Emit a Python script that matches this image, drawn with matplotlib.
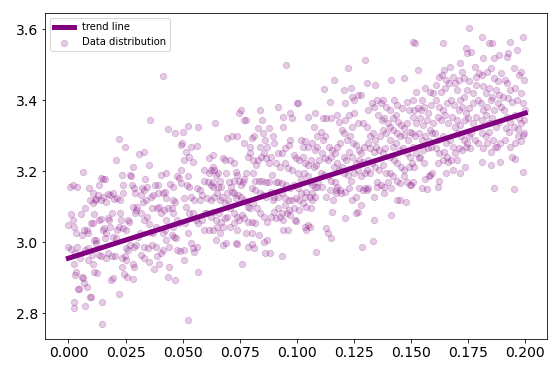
import matplotlib
matplotlib.use("Agg")
import matplotlib.pyplot as plt

# Trend line end points
trend_x = [0.0, 0.2]
trend_y = [2.955, 3.364]

# Scatter data
x_values = [
    # 0.00-0.01
    0.0000, 0.0006, 0.0019, 0.0039, 0.0011, 0.0019, 0.0000, 0.0011, 0.0026, 0.0034,
    0.0039, 0.0029, 0.0050, 0.0023, 0.0034, 0.0029, 0.0060, 0.0026, 0.0025, 0.0045,
    0.0040, 0.0065, 0.0070, 0.0073, 0.0062, 0.0073, 0.0081, 0.0085, 0.0088, 0.0091,
    0.0096, 0.0060, 0.0073, 0.0054, 0.0067, 0.0088, 0.0096, 0.0082,
    # 0.01-0.02
    0.0107, 0.0107, 0.0116, 0.0122, 0.0101, 0.0107, 0.0112, 0.0143, 0.0150, 0.0161,
    0.0132, 0.0129, 0.0143, 0.0153, 0.0163, 0.0135, 0.0141, 0.0150, 0.0158, 0.0112,
    0.0122, 0.0119, 0.0104, 0.0109, 0.0113, 0.0127, 0.0143, 0.0135, 0.0166, 0.0174,
    0.0147, 0.0147, 0.0101, 0.0191, 0.0194, 0.0184, 0.0178, 0.0174, 0.0189, 0.0174,
    0.0197, 0.0199, 0.0180, 0.0186, 0.0197, 0.0166, 0.0160,
    # 0.02-0.03
    0.0209, 0.0223, 0.0247, 0.0236, 0.0239, 0.0270, 0.0274, 0.0281, 0.0278, 0.0287,
    0.0293, 0.0212, 0.0228, 0.0240, 0.0225, 0.0231, 0.0220, 0.0212, 0.0240, 0.0251,
    0.0259, 0.0266, 0.0282, 0.0290, 0.0298, 0.0253, 0.0262, 0.0271, 0.0287, 0.0296,
    0.0236, 0.0247, 0.0251, 0.0233, 0.0243, 0.0256, 0.0282, 0.0287, 0.0282, 0.0220,
    0.0205, 0.0208,
    # 0.03-0.04
    0.0310, 0.0329, 0.0352, 0.0357, 0.0336, 0.0321, 0.0333, 0.0344, 0.0316, 0.0326,
    0.0340, 0.0360, 0.0371, 0.0380, 0.0391, 0.0392, 0.0302, 0.0318, 0.0329, 0.0344,
    0.0352, 0.0360, 0.0371, 0.0383, 0.0313, 0.0305, 0.0333, 0.0349, 0.0364, 0.0383,
    0.0316, 0.0329, 0.0352, 0.0375, 0.0395, 0.0386, 0.0367, 0.0388, 0.0398,
    # 0.04-0.05
    0.0414, 0.0437, 0.0465, 0.0429, 0.0406, 0.0414, 0.0422, 0.0426, 0.0445, 0.0457,
    0.0460, 0.0468, 0.0476, 0.0484, 0.0491, 0.0499, 0.0495, 0.0406, 0.0417, 0.0429,
    0.0437, 0.0453, 0.0460, 0.0476, 0.0484, 0.0414, 0.0426, 0.0442, 0.0453, 0.0464,
    0.0457, 0.0473, 0.0476, 0.0488, 0.0442, 0.0437, 0.0468, 0.0414, 0.0406, 0.0423,
    # 0.05-0.06
    0.0502, 0.0522, 0.0495, 0.0515, 0.0530, 0.0538, 0.0561, 0.0566, 0.0507, 0.0546,
    0.0522, 0.0519, 0.0530, 0.0538, 0.0550, 0.0561, 0.0574, 0.0584, 0.0592, 0.0595,
    0.0507, 0.0515, 0.0530, 0.0546, 0.0557, 0.0569, 0.0584, 0.0510, 0.0522, 0.0538,
    0.0546, 0.0550, 0.0561, 0.0504, 0.0507, 0.0569, 0.0524, 0.0577, 0.0592, 0.0597,
    # 0.06-0.07
    0.0616, 0.0631, 0.0643, 0.0623, 0.0616, 0.0631, 0.0639, 0.0647, 0.0654, 0.0612,
    0.0623, 0.0631, 0.0662, 0.0670, 0.0678, 0.0685, 0.0690, 0.0608, 0.0623, 0.0639,
    0.0650, 0.0662, 0.0674, 0.0685, 0.0698, 0.0608, 0.0623, 0.0631, 0.0647, 0.0659,
    0.0670, 0.0685, 0.0693, 0.0616, 0.0631, 0.0650, 0.0662, 0.0678, 0.0647, 0.0678,
    0.0690, 0.0631, 0.0654, 0.0693, 0.0696,
    # 0.07-0.08
    0.0716, 0.0740, 0.0747, 0.0755, 0.0767, 0.0778, 0.0709, 0.0724, 0.0732, 0.0740,
    0.0724, 0.0747, 0.0755, 0.0763, 0.0770, 0.0778, 0.0786, 0.0794, 0.0716, 0.0724,
    0.0732, 0.0743, 0.0755, 0.0767, 0.0778, 0.0786, 0.0794, 0.0709, 0.0724, 0.0736,
    0.0747, 0.0758, 0.0770, 0.0786, 0.0709, 0.0724, 0.0740, 0.0732, 0.0736, 0.0778,
    0.0786, 0.0760, 0.0712, 0.0705, 0.0770, 0.0795,
    # 0.08-0.09
    0.0805, 0.0814, 0.0840, 0.0848, 0.0829, 0.0840, 0.0851, 0.0860, 0.0871, 0.0879,
    0.0887, 0.0895, 0.0809, 0.0820, 0.0829, 0.0845, 0.0856, 0.0867, 0.0879, 0.0809,
    0.0817, 0.0833, 0.0848, 0.0864, 0.0879, 0.0891, 0.0805, 0.0817, 0.0840, 0.0851,
    0.0867, 0.0887, 0.0895, 0.0809, 0.0825, 0.0840, 0.0856, 0.0871, 0.0887, 0.0805,
    0.0817, 0.0833, 0.0856, 0.0871, 0.0860, 0.0882, 0.0805, 0.0814, 0.0802,
    # 0.09-0.10
    0.0918, 0.0952, 0.0941, 0.0941, 0.0972, 0.0980, 0.0999, 0.0902, 0.0918, 0.0933,
    0.0949, 0.0964, 0.0972, 0.0988, 0.0995, 0.0910, 0.0926, 0.0949, 0.0960, 0.0980,
    0.0907, 0.0918, 0.0933, 0.0953, 0.0972, 0.0988, 0.0902, 0.0918, 0.0933, 0.0949,
    0.0964, 0.0980, 0.0995, 0.0902, 0.0918, 0.0933, 0.0949, 0.0964, 0.0988, 0.0910,
    0.0926, 0.0941, 0.0957, 0.0972, 0.0992, 0.0941, 0.0960, 0.0937, 0.0995,
    # 0.10-0.11
    0.1003, 0.1050, 0.1073, 0.1081, 0.1088, 0.1019, 0.1026, 0.1037, 0.1050, 0.1065,
    0.1078, 0.1088, 0.1011, 0.1026, 0.1037, 0.1050, 0.1062, 0.1073, 0.1084, 0.1096,
    0.1003, 0.1019, 0.1031, 0.1047, 0.1057, 0.1068, 0.1081, 0.1093, 0.1006, 0.1019,
    0.1034, 0.1042, 0.1057, 0.1065, 0.1081, 0.1011, 0.1026, 0.1042, 0.1062, 0.1011,
    0.1034, 0.1042, 0.1050, 0.1057, 0.1068, 0.1084, 0.1090,
    # 0.11-0.12
    0.1115, 0.1127, 0.1143, 0.1150, 0.1161, 0.1174, 0.1186, 0.1197, 0.1119, 0.1104,
    0.1115, 0.1124, 0.1140, 0.1155, 0.1166, 0.1177, 0.1189, 0.1112, 0.1124, 0.1135,
    0.1150, 0.1161, 0.1174, 0.1186, 0.1197, 0.1104, 0.1119, 0.1135, 0.1150, 0.1166,
    0.1177, 0.1189, 0.1112, 0.1127, 0.1143, 0.1158, 0.1171, 0.1192, 0.1127, 0.1150,
    0.1135, 0.1153, 0.1171,
    # 0.12-0.13
    0.1205, 0.1212, 0.1225, 0.1236, 0.1243, 0.1251, 0.1267, 0.1282, 0.1298, 0.1212,
    0.1228, 0.1243, 0.1251, 0.1267, 0.1290, 0.1208, 0.1220, 0.1233, 0.1248, 0.1259,
    0.1270, 0.1282, 0.1295, 0.1205, 0.1217, 0.1228, 0.1243, 0.1259, 0.1274, 0.1290,
    0.1208, 0.1223, 0.1239, 0.1251, 0.1267, 0.1282, 0.1298, 0.1212, 0.1228, 0.1243,
    0.1259, 0.1274, 0.1290, 0.1212, 0.1259, 0.1267, 0.1282, 0.1285, 0.1298,
    # 0.13-0.14
    0.1305, 0.1329, 0.1344, 0.1352, 0.1367, 0.1378, 0.1391, 0.1313, 0.1336, 0.1357,
    0.1372, 0.1383, 0.1398, 0.1305, 0.1321, 0.1332, 0.1344, 0.1363, 0.1375, 0.1391,
    0.1310, 0.1321, 0.1336, 0.1347, 0.1360, 0.1375, 0.1388, 0.1313, 0.1329, 0.1344,
    0.1360, 0.1375, 0.1391, 0.1305, 0.1321, 0.1352, 0.1367, 0.1383, 0.1398, 0.1313,
    0.1336, 0.1352, 0.1383, 0.1336, 0.1332, 0.1305,
    # 0.14-0.15
    0.1414, 0.1425, 0.1437, 0.1460, 0.1468, 0.1481, 0.1491, 0.1406, 0.1419, 0.1434,
    0.1445, 0.1456, 0.1471, 0.1484, 0.1496, 0.1406, 0.1422, 0.1437, 0.1453, 0.1468,
    0.1487, 0.1406, 0.1419, 0.1434, 0.1450, 0.1465, 0.1481, 0.1496, 0.1409, 0.1425,
    0.1440, 0.1456, 0.1471, 0.1491, 0.1406, 0.1422, 0.1437, 0.1453, 0.1468, 0.1484,
    0.1496, 0.1414, 0.1437, 0.1453, 0.1476, 0.1411,
    # 0.15-0.16
    0.1507, 0.1518, 0.1530, 0.1522, 0.1546, 0.1561, 0.1585, 0.1595, 0.1507, 0.1515,
    0.1530, 0.1543, 0.1558, 0.1574, 0.1589, 0.1507, 0.1522, 0.1538, 0.1553, 0.1569,
    0.1585, 0.1595, 0.1502, 0.1518, 0.1533, 0.1549, 0.1561, 0.1577, 0.1592, 0.1507,
    0.1522, 0.1538, 0.1553, 0.1574, 0.1589, 0.1502, 0.1515, 0.1533, 0.1558, 0.1577,
    0.1592, 0.1499, 0.1507, 0.1546, 0.1561, 0.1569, 0.1585,
    # 0.16-0.17
    0.1639, 0.1643, 0.1636, 0.1623, 0.1670, 0.1654, 0.1608, 0.1631, 0.1647, 0.1667,
    0.1685, 0.1693, 0.1608, 0.1623, 0.1639, 0.1657, 0.1673, 0.1688, 0.1616, 0.1631,
    0.1647, 0.1662, 0.1677, 0.1693, 0.1605, 0.1620, 0.1639, 0.1654, 0.1670, 0.1685,
    0.1608, 0.1623, 0.1642, 0.1657, 0.1673, 0.1693, 0.1616, 0.1639, 0.1662, 0.1623,
    0.1654, 0.1685, 0.1620,
    # 0.17-0.18
    0.1716, 0.1724, 0.1740, 0.1755, 0.1763, 0.1747, 0.1709, 0.1732, 0.1755, 0.1778,
    0.1786, 0.1797, 0.1701, 0.1716, 0.1732, 0.1747, 0.1771, 0.1786, 0.1709, 0.1724,
    0.1740, 0.1755, 0.1771, 0.1791, 0.1701, 0.1716, 0.1735, 0.1750, 0.1771, 0.1786,
    0.1704, 0.1719, 0.1732, 0.1744, 0.1763, 0.1778, 0.1794, 0.1709, 0.1724, 0.1740,
    0.1760, 0.1701, 0.1716, 0.1735, 0.1755,
    # 0.18-0.19
    0.1809, 0.1840, 0.1856, 0.1817, 0.1864, 0.1887, 0.1809, 0.1833, 0.1848, 0.1864,
    0.1879, 0.1895, 0.1817, 0.1828, 0.1840, 0.1856, 0.1871, 0.1887, 0.1806, 0.1817,
    0.1833, 0.1848, 0.1864, 0.1879, 0.1895, 0.1809, 0.1828, 0.1840, 0.1856, 0.1871,
    0.1887, 0.1812, 0.1828, 0.1843, 0.1859, 0.1874, 0.1890, 0.1817, 0.1833, 0.1848,
    0.1809, 0.1848, 0.1868, 0.1890, 0.1864,
    # 0.19-0.20
    0.1933, 0.1988, 0.1964, 0.1918, 0.1926, 0.1949, 0.1972, 0.1980, 0.1995, 0.1910,
    0.1921, 0.1933, 0.1957, 0.1980, 0.1902, 0.1926, 0.1941, 0.1964, 0.1988, 0.1998,
    0.1905, 0.1918, 0.1933, 0.1957, 0.1972, 0.1983, 0.1995, 0.1915, 0.1930, 0.1949,
    0.1967, 0.1988, 0.1910, 0.1933, 0.1957, 0.1980, 0.1941, 0.1957, 0.1988, 0.1949,
    0.1967, 0.1995,
]

y_values = [
    # 0.00-0.01
    3.050, 3.157, 3.162, 3.157, 3.080, 3.063, 2.988, 2.980, 3.044, 3.025,
    2.988, 2.969, 2.955, 2.940, 2.917, 2.908, 2.903, 2.833, 2.814, 2.868,
    2.868, 2.898, 2.885, 2.820, 3.197, 3.096, 3.035, 3.025, 2.950, 3.152,
    3.119, 3.020, 2.978, 3.080, 3.035, 2.983, 2.847, 2.875,
    # 0.01-0.02
    3.138, 3.110, 3.120, 3.122, 3.053, 3.055, 3.080, 3.181, 3.177, 3.177,
    3.162, 3.133, 3.119, 3.128, 3.114, 3.063, 3.066, 3.036, 3.041, 3.007,
    3.007, 2.997, 2.964, 2.940, 2.917, 2.913, 2.960, 2.964, 2.955, 2.969,
    2.833, 2.770, 2.847, 2.960, 3.016, 3.044, 3.063, 3.068, 3.082, 3.135,
    3.138, 3.122, 3.133, 2.893, 2.898, 3.025, 3.012,
    # 0.02-0.03
    3.232, 3.290, 3.268, 3.190, 3.162, 3.190, 3.186, 3.213, 3.162, 3.152,
    3.140, 3.124, 3.119, 3.138, 3.082, 3.063, 3.044, 3.035, 3.040, 3.035,
    3.063, 3.058, 3.100, 3.082, 3.091, 2.983, 2.978, 2.992, 2.988, 2.992,
    2.955, 2.960, 2.950, 2.931, 2.911, 2.903, 2.940, 2.931, 2.896, 2.854,
    2.960, 3.012,
    # 0.03-0.04
    3.249, 3.255, 3.218, 3.345, 3.177, 3.152, 3.148, 3.157, 3.133, 3.114,
    3.120, 3.128, 3.133, 3.162, 3.162, 3.138, 3.100, 3.082, 3.063, 3.072,
    3.052, 3.030, 3.025, 3.044, 3.025, 3.016, 2.988, 2.983, 2.992, 2.988,
    2.964, 2.955, 2.945, 2.924, 2.940, 2.960, 3.096, 3.096, 3.099,
    # 0.04-0.05
    3.468, 3.318, 3.307, 3.195, 3.190, 3.138, 3.143, 3.124, 3.164, 3.157,
    3.119, 3.114, 3.186, 3.181, 3.204, 3.279, 3.168, 3.082, 3.091, 3.063,
    3.096, 3.096, 3.082, 3.063, 3.053, 3.025, 3.007, 2.988, 3.021, 3.016,
    3.044, 3.012, 2.978, 2.976, 2.931, 2.903, 2.894, 2.978, 2.969, 3.035,
    # 0.05-0.06
    3.312, 3.328, 3.274, 3.255, 3.241, 3.269, 3.270, 3.326, 3.232, 3.227,
    3.186, 3.162, 3.157, 3.128, 3.119, 3.152, 3.148, 3.133, 3.174, 3.204,
    3.124, 3.100, 3.082, 3.082, 3.063, 3.053, 3.063, 3.053, 3.025, 2.997,
    2.983, 2.973, 2.988, 2.978, 2.950, 2.917, 2.781, 3.119, 3.036, 3.082,
    # 0.06-0.07
    3.237, 3.246, 3.337, 3.204, 3.195, 3.213, 3.204, 3.190, 3.195, 3.171,
    3.162, 3.171, 3.174, 3.157, 3.237, 3.232, 3.195, 3.124, 3.119, 3.128,
    3.138, 3.119, 3.128, 3.110, 3.119, 3.082, 3.072, 3.086, 3.063, 3.082,
    3.058, 3.068, 3.072, 3.035, 3.035, 3.044, 3.025, 3.044, 3.007, 2.992,
    2.997, 3.157, 3.157, 3.138, 3.293,
    # 0.07-0.08
    3.298, 3.298, 3.363, 3.373, 3.345, 3.345, 3.232, 3.223, 3.199, 3.190,
    3.174, 3.174, 3.162, 3.171, 3.177, 3.195, 3.241, 3.251, 3.143, 3.138,
    3.124, 3.133, 3.128, 3.119, 3.114, 3.100, 3.096, 3.096, 3.082, 3.072,
    3.063, 3.077, 3.068, 3.058, 3.044, 3.053, 3.035, 2.997, 2.995, 3.025,
    2.988, 2.940, 3.157, 3.171, 3.279, 3.269,
    # 0.08-0.09
    3.293, 3.298, 3.373, 3.345, 3.321, 3.269, 3.307, 3.288, 3.269, 3.321,
    3.241, 3.298, 3.232, 3.218, 3.232, 3.241, 3.251, 3.237, 3.223, 3.195,
    3.174, 3.174, 3.174, 3.171, 3.171, 3.190, 3.152, 3.148, 3.138, 3.133,
    3.128, 3.143, 3.119, 3.110, 3.096, 3.082, 3.072, 3.058, 3.072, 3.058,
    3.053, 3.021, 3.002, 3.007, 2.969, 2.971, 3.025, 2.983, 2.995,
    # 0.09-0.10
    3.380, 3.500, 3.326, 3.354, 3.363, 3.349, 3.392, 3.279, 3.251, 3.251,
    3.265, 3.274, 3.288, 3.246, 3.237, 3.223, 3.213, 3.223, 3.209, 3.204,
    3.171, 3.171, 3.167, 3.162, 3.152, 3.162, 3.128, 3.128, 3.138, 3.124,
    3.119, 3.119, 3.124, 3.086, 3.096, 3.082, 3.105, 3.091, 3.096, 3.068,
    3.072, 3.063, 3.082, 3.077, 3.063, 3.035, 3.035, 2.960, 3.061,
    # 0.10-0.11
    3.392, 3.354, 3.326, 3.363, 3.298, 3.288, 3.269, 3.284, 3.269, 3.279,
    3.260, 3.269, 3.232, 3.241, 3.223, 3.218, 3.232, 3.213, 3.218, 3.232,
    3.195, 3.177, 3.195, 3.186, 3.171, 3.162, 3.157, 3.171, 3.152, 3.138,
    3.128, 3.143, 3.128, 3.119, 3.128, 3.119, 3.110, 3.100, 3.096, 3.091,
    3.044, 3.035, 3.049, 3.044, 3.138, 2.973, 3.157,
    # 0.11-0.12
    3.349, 3.349, 3.396, 3.349, 3.457, 3.359, 3.340, 3.316, 3.431, 3.312,
    3.288, 3.298, 3.269, 3.260, 3.251, 3.269, 3.279, 3.251, 3.237, 3.232,
    3.241, 3.213, 3.223, 3.204, 3.213, 3.195, 3.190, 3.186, 3.174, 3.171,
    3.157, 3.148, 3.157, 3.128, 3.148, 3.119, 3.148, 3.138, 3.040, 3.012,
    3.025, 3.085, 3.140,
    # 0.12-0.13
    3.428, 3.392, 3.490, 3.434, 3.410, 3.401, 3.415, 3.415, 3.514, 3.345,
    3.359, 3.326, 3.363, 3.335, 3.335, 3.307, 3.288, 3.298, 3.279, 3.274,
    3.260, 3.251, 3.269, 3.241, 3.232, 3.255, 3.241, 3.223, 3.232, 3.227,
    3.195, 3.190, 3.174, 3.195, 3.204, 3.186, 3.195, 3.143, 3.152, 3.119,
    3.128, 3.152, 3.148, 3.068, 3.082, 3.086, 3.105, 2.988, 3.152,
    # 0.13-0.14
    3.448, 3.392, 3.443, 3.401, 3.392, 3.401, 3.382, 3.373, 3.382, 3.359,
    3.345, 3.349, 3.335, 3.326, 3.298, 3.307, 3.288, 3.298, 3.316, 3.307,
    3.279, 3.265, 3.255, 3.269, 3.260, 3.251, 3.265, 3.232, 3.223, 3.213,
    3.204, 3.218, 3.195, 3.204, 3.195, 3.171, 3.162, 3.157, 3.171, 3.152,
    3.128, 3.157, 3.138, 3.063, 3.004, 3.148,
    # 0.14-0.15
    3.457, 3.401, 3.387, 3.377, 3.462, 3.396, 3.373, 3.373, 3.349, 3.359,
    3.340, 3.331, 3.321, 3.335, 3.312, 3.326, 3.316, 3.307, 3.298, 3.302,
    3.288, 3.288, 3.269, 3.279, 3.260, 3.265, 3.251, 3.241, 3.241, 3.232,
    3.223, 3.213, 3.204, 3.213, 3.195, 3.186, 3.174, 3.167, 3.186, 3.171,
    3.162, 3.152, 3.119, 3.119, 3.114, 3.077,
    # 0.15-0.16
    3.565, 3.562, 3.486, 3.424, 3.401, 3.434, 3.424, 3.420, 3.401, 3.373,
    3.377, 3.373, 3.382, 3.363, 3.387, 3.354, 3.335, 3.349, 3.331, 3.345,
    3.316, 3.335, 3.307, 3.298, 3.307, 3.288, 3.298, 3.284, 3.307, 3.269,
    3.251, 3.241, 3.260, 3.265, 3.269, 3.223, 3.213, 3.237, 3.223, 3.186,
    3.195, 3.162, 3.171, 3.152, 3.177, 3.149, 3.190,
    # 0.16-0.17
    3.561, 3.486, 3.471, 3.467, 3.495, 3.457, 3.443, 3.424, 3.434, 3.448,
    3.467, 3.448, 3.401, 3.382, 3.373, 3.392, 3.401, 3.387, 3.354, 3.345,
    3.359, 3.335, 3.354, 3.326, 3.307, 3.288, 3.298, 3.279, 3.288, 3.269,
    3.265, 3.251, 3.255, 3.241, 3.232, 3.251, 3.223, 3.232, 3.227, 3.174,
    3.195, 3.204, 3.157,
    # 0.17-0.18
    3.504, 3.480, 3.546, 3.603, 3.537, 3.532, 3.457, 3.462, 3.453, 3.495,
    3.467, 3.476, 3.429, 3.401, 3.410, 3.429, 3.420, 3.443, 3.373, 3.382,
    3.363, 3.377, 3.392, 3.401, 3.345, 3.331, 3.345, 3.349, 3.335, 3.354,
    3.307, 3.298, 3.288, 3.279, 3.307, 3.288, 3.279, 3.265, 3.260, 3.269,
    3.265, 3.232, 3.195, 3.213, 3.298,
    # 0.18-0.19
    3.579, 3.561, 3.561, 3.518, 3.518, 3.527, 3.471, 3.480, 3.490, 3.462,
    3.453, 3.476, 3.439, 3.420, 3.434, 3.410, 3.429, 3.415, 3.392, 3.373,
    3.382, 3.401, 3.373, 3.392, 3.382, 3.345, 3.359, 3.335, 3.349, 3.326,
    3.340, 3.307, 3.298, 3.312, 3.288, 3.269, 3.279, 3.265, 3.279, 3.255,
    3.227, 3.218, 3.269, 3.227, 3.152,
    # 0.19-0.20
    3.565, 3.577, 3.542, 3.523, 3.532, 3.490, 3.471, 3.480, 3.457, 3.457,
    3.448, 3.429, 3.434, 3.420, 3.410, 3.406, 3.396, 3.401, 3.392, 3.373,
    3.373, 3.354, 3.340, 3.359, 3.349, 3.335, 3.345, 3.321, 3.312, 3.326,
    3.298, 3.302, 3.288, 3.269, 3.279, 3.284, 3.241, 3.234, 3.199, 3.150,
    3.318, 3.309,
]

n = min(len(x_values), len(y_values))

fig = plt.figure(figsize=(556 / 72, 373 / 72), dpi=72)
ax = fig.add_axes([0.0815, 0.0912, 0.9023, 0.8731])

ax.plot(trend_x, trend_y, color="purple", linewidth=5, label="trend line")
ax.scatter(x_values[:n], y_values[:n], color="purple", alpha=0.2, s=40,
           label="Data distribution")

ax.set_xlim(-0.0101, 0.2095)
ax.set_ylim(2.7276, 3.645)
ax.set_xticks([0.0, 0.025, 0.05, 0.075, 0.1, 0.125, 0.15, 0.175, 0.2])
ax.set_yticks([2.8, 3.0, 3.2, 3.4, 3.6])
ax.tick_params(labelsize=14)
ax.legend(loc="upper left", fontsize=10)

fig.savefig("out.png", dpi=72)
print(len(x_values), len(y_values))
